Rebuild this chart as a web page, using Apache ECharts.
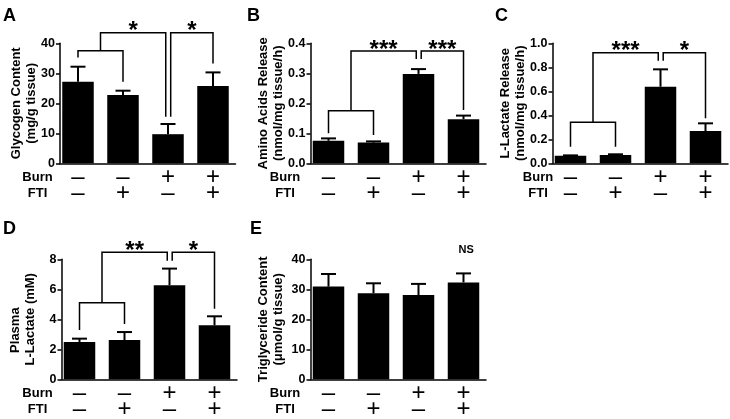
<!DOCTYPE html>
<html><head><meta charset="utf-8">
<script src="https://cdn.jsdelivr.net/npm/echarts@6/dist/echarts.min.js"></script>
<style>html,body{margin:0;padding:0;background:#fff}#c{width:730px;height:419px}</style>
</head><body><div id="c"></div>
<script>
// ---- data ----
const groups = [0, 1, 2, 3]; // Control, FTI, Burn, Burn+FTI
const burnSigns = ['\u2013', '\u2013', '+', '+'];
const ftiSigns = ['\u2013', '+', '\u2013', '+'];

const glycogenMean = [27.2, 22.8, 9.7, 25.8];
const glycogenSem = [5.0, 1.4, 3.4, 4.5];
const glycogenBrackets = [
  [[0, 35.3], [0, 37.5], [1, 37.5], [1, 27.2]],
  [[0.5, 37.5], [0.5, 43.5], [1.95, 43.5], [1.95, 15.5]],
  [[2.06, 15.5], [2.06, 43.5], [3, 43.5], [3, 33.3]]
];
const glycogenSig = [[1.225, 43.5, '*'], [2.53, 43.5, '*']];

const aminoMean = [0.075, 0.069, 0.298, 0.147];
const aminoSem = [0.008, 0.004, 0.016, 0.012];
const aminoBrackets = [
  [[0, 0.1], [0, 0.175], [1, 0.175], [1, 0.094]],
  [[0.5, 0.175], [0.5, 0.374], [1.95, 0.374], [1.95, 0.348]],
  [[2.06, 0.348], [2.06, 0.374], [3, 0.374], [3, 0.178]]
];
const aminoSig = [[1.225, 0.374, '***'], [2.53, 0.374, '***']];

const lactateMean = [0.063, 0.07, 0.638, 0.269];
const lactateSem = [0.003, 0.005, 0.145, 0.064];
const lactateBrackets = [
  [[0, 0.138], [0, 0.342], [1, 0.342], [1, 0.138]],
  [[0.5, 0.342], [0.5, 0.922], [1.95, 0.922], [1.95, 0.855]],
  [[2.06, 0.855], [2.06, 0.922], [3, 0.922], [3, 0.375]]
];
const lactateSig = [[1.225, 0.922, '***'], [2.53, 0.922, '*']];

const plasmaMean = [2.49, 2.62, 6.27, 3.6];
const plasmaSem = [0.22, 0.53, 1.11, 0.6];
const plasmaBrackets = [
  [[0, 3.29], [0, 5.11], [1, 5.11], [1, 3.69]],
  [[0.5, 5.11], [0.5, 8.47], [1.95, 8.47], [1.95, 7.91]],
  [[2.06, 7.91], [2.06, 8.47], [3, 8.47], [3, 4.71]]
];
const plasmaSig = [[1.225, 8.47, '**'], [2.53, 8.47, '*']];

const tgMean = [30.9, 28.7, 28.1, 32.3];
const tgSem = [4.2, 3.3, 3.7, 3.0];
const tgBrackets = [];
const tgSig = [[3.06, 43.1, 'NS']];

// ---- panels ----
const FONT = '"Liberation Sans", Arial, Helvetica, sans-serif';
const X_MIN = -0.4, X_MAX = 3.5, UNIT = 45;
const panels = [
  {letter: 'A', mean: glycogenMean, sem: glycogenSem, brackets: glycogenBrackets, sig: glycogenSig,
   yMax: 40, yInt: 10, dec: 0, yName: 'Glycogen Content\n(mg/g tissue)',
   lay: {left: 60, top: 43.3, nameGap: 21, rowX: 37.5, tx: 3, ty: 7}},
  {letter: 'B', mean: aminoMean, sem: aminoSem, brackets: aminoBrackets, sig: aminoSig,
   yMax: 0.4, yInt: 0.1, dec: 1, yName: 'Amino Acids Release\n(nmol/mg tissue/h)',
   lay: {left: 310.5, top: 43.3, nameGap: 24.5, rowX: 285, tx: 247, ty: 7}},
  {letter: 'C', mean: lactateMean, sem: lactateSem, brackets: lactateBrackets, sig: lactateSig,
   yMax: 1.0, yInt: 0.2, dec: 1, yName: 'L-Lactate Release\n(nmol/mg tissue/h)',
   lay: {left: 552.5, top: 43.3, nameGap: 25, rowX: 538, tx: 495, ty: 7}},
  {letter: 'D', mean: plasmaMean, sem: plasmaSem, brackets: plasmaBrackets, sig: plasmaSig,
   yMax: 8, yInt: 2, dec: 0, yName: 'Plasma' + '\u00a0'.repeat(6) + '\nL-Lactate (mM)',
   lay: {left: 61.5, top: 259.3, nameGap: 24, rowX: 37.5, tx: 3, ty: 220}},
  {letter: 'E', mean: tgMean, sem: tgSem, brackets: tgBrackets, sig: tgSig,
   yMax: 40, yInt: 10, dec: 0, yName: 'Triglyceride Content\n(\u03bcmol/g tissue)',
   lay: {left: 310.5, top: 259.3, nameGap: 24.5, rowX: 285, tx: 250, ty: 220}}
];
const GW = (X_MAX - X_MIN) * UNIT, GH = 120;

const grid = [], xAxis = [], yAxis = [], series = [], graphic = [];
panels.forEach((p, i) => {
  const L = p.lay;
  grid.push({left: L.left, top: L.top, width: GW, height: GH, containLabel: false, outerBoundsMode: 'none'});
  xAxis.push({
    type: 'value', gridIndex: i, min: X_MIN, max: X_MAX,
    axisLine: {show: true, onZero: false, lineStyle: {color: '#000', width: 1.5}},
    axisTick: {show: false}, axisLabel: {show: false}, splitLine: {show: false}
  });
  yAxis.push({
    type: 'value', gridIndex: i, min: 0, max: p.yMax, interval: p.yInt,
    name: p.yName, nameLocation: 'middle', nameGap: L.nameGap, nameMoveOverlap: false,
    nameTextStyle: {color: '#000', fontSize: 13, fontWeight: 'bold', lineHeight: 15, fontFamily: FONT},
    axisLine: {show: true, onZero: false, lineStyle: {color: '#000', width: 1.5}},
    axisTick: {show: true, length: 4, lineStyle: {color: '#000', width: 1.5}},
    splitLine: {show: false},
    axisLabel: {color: '#000', fontSize: 12.5, fontWeight: 'bold', margin: 5, fontFamily: FONT,
      formatter: v => v.toFixed(p.dec)}
  });
  // bars
  series.push({
    type: 'bar', xAxisIndex: i, yAxisIndex: i, data: p.mean.map((m, k) => [groups[k], m]),
    barWidth: 31.5, itemStyle: {color: '#000'}, silent: true, z: 2
  });
  // error bars (upper only)
  series.push({
    type: 'custom', xAxisIndex: i, yAxisIndex: i, clip: false, silent: true, z: 4,
    data: p.mean.map((m, k) => [groups[k], m, m + p.sem[k]]),
    renderItem: (params, api) => {
      const k = params.dataIndex;
      const base = api.coord([groups[k], p.mean[k]]);
      const top = api.coord([groups[k], p.mean[k] + p.sem[k]]);
      const hw = 7.5;
      return {type: 'group', children: [
        {type: 'line', shape: {x1: base[0], y1: base[1], x2: top[0], y2: top[1]}, style: {stroke: '#000', lineWidth: 2}},
        {type: 'line', shape: {x1: top[0] - hw, y1: top[1], x2: top[0] + hw, y2: top[1]}, style: {stroke: '#000', lineWidth: 2}}
      ]};
    }
  });
  // group sign labels (Burn / FTI rows)
  series.push({
    type: 'custom', xAxisIndex: i, yAxisIndex: i, clip: false, silent: true, z: 4,
    data: groups.map(g => [g, 0]),
    renderItem: (params, api) => {
      const k = params.dataIndex;
      const pt = api.coord([groups[k], 0]);
      const st = (t, dy) => ({type: 'text', style: {text: t, x: pt[0], y: pt[1] + dy, fill: '#000',
        font: '24px ' + FONT, align: 'center', verticalAlign: 'middle'}});
      return {type: 'group', children: [st(burnSigns[k], 14.5), st(ftiSigns[k], 30.5)]};
    }
  });
  // significance brackets
  if (p.brackets.length) series.push({
    type: 'custom', xAxisIndex: i, yAxisIndex: i, clip: false, silent: true, z: 5,
    data: p.brackets.map(b => b[0]),
    renderItem: (params, api) => {
      const pts = p.brackets[params.dataIndex].map(pt => api.coord(pt));
      return {type: 'polyline', shape: {points: pts}, style: {stroke: '#000', lineWidth: 1.5, fill: null}};
    }
  });
  // significance marks
  series.push({
    type: 'custom', xAxisIndex: i, yAxisIndex: i, clip: false, silent: true, z: 6,
    data: p.sig.map(s => [s[0], s[1]]),
    renderItem: (params, api) => {
      const s = p.sig[params.dataIndex];
      const pt = api.coord([s[0], s[1]]);
      const isNS = s[2] === 'NS';
      return {type: 'text', style: {
        text: s[2], x: pt[0], y: isNS ? pt[1] : pt[1] - 1,
        fill: '#000', font: (isNS ? 'bold 11px ' : 'bold 24px ') + FONT,
        align: 'center', verticalAlign: 'middle'}};
    }
  });
  graphic.push({type: 'text', left: L.tx, top: L.ty,
    style: {text: p.letter, fill: '#000', font: 'bold 18px ' + FONT}});
  const axisY = L.top + GH;
  graphic.push({type: 'text', x: L.rowX, y: axisY + 14.5,
    style: {text: 'Burn', fill: '#000', font: 'bold 13px ' + FONT, align: 'center', verticalAlign: 'middle'}});
  graphic.push({type: 'text', x: L.rowX, y: axisY + 30.5,
    style: {text: 'FTI', fill: '#000', font: 'bold 13px ' + FONT, align: 'center', verticalAlign: 'middle'}});
});

const chart = echarts.init(document.getElementById('c'), null, {renderer: 'canvas'});
chart.setOption({animation: false, backgroundColor: '#fff', grid, xAxis, yAxis, series, graphic});
</script></body></html>
